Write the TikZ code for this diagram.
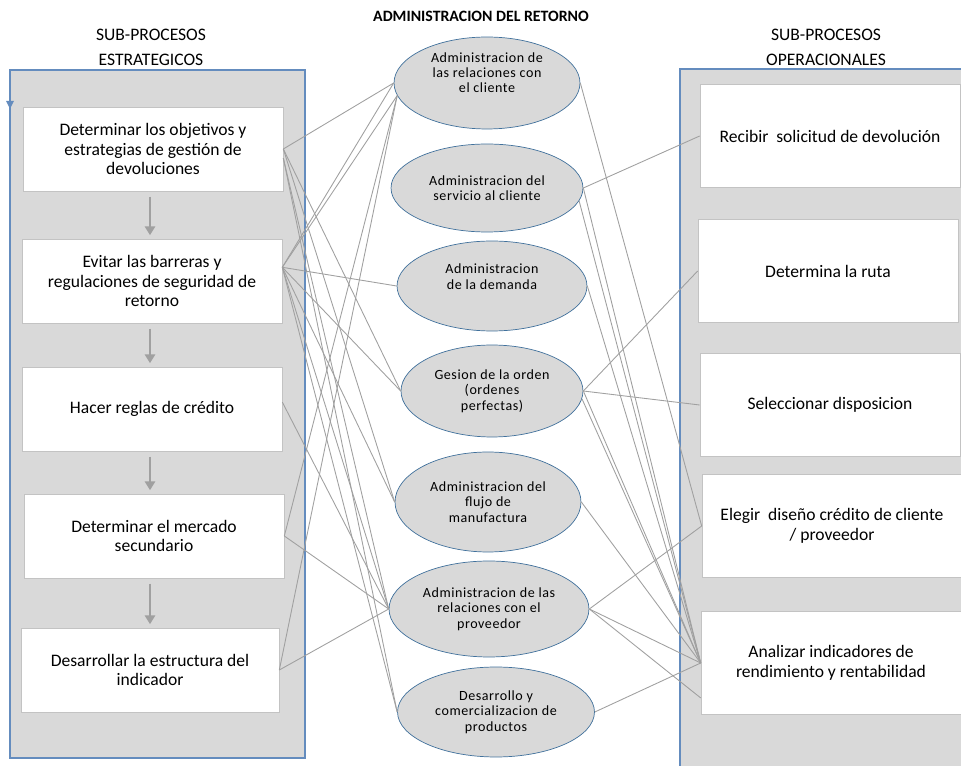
\documentclass[tikz,border=0pt]{standalone}
\usepackage{fontspec}
\setmainfont{Carlito}
\usepackage{tikz}
\usetikzlibrary{shapes.geometric,arrows.meta}
\definecolor{marco}{RGB}{100,140,190}
\definecolor{borde}{RGB}{65,113,156}
\definecolor{fondo}{RGB}{217,217,217}
\definecolor{linea}{RGB}{160,160,160}
\definecolor{caja}{RGB}{195,195,195}

\begin{document}
\begin{tikzpicture}[x=0.02cm,y=-0.02cm,
    paso/.style={draw=caja,fill=white,minimum width=5.2cm,minimum height=1.68cm,
      align=center,font=\fontsize{10}{11.2}\selectfont},
    oper/.style={paso,minimum height=2.06cm},
    proc/.style={ellipse,draw=borde,fill=fondo,align=center,inner sep=0pt,
      font=\fontsize{8}{8.8}\selectfont\addfontfeatures{LetterSpace=4}},
    cabeza/.style={align=center,font=\fontsize{10}{14.2}\selectfont},
    enlace/.style={draw=linea,line width=.5pt},
    flecha/.style={draw=linea,line width=.8pt,shorten <=3pt,shorten >=2pt,
      -{Triangle[width=6pt,length=5pt]}}]
    \useasboundingbox (0,0) rectangle (961,766);
    % titles
    \node[font=\bfseries\fontsize{9}{10}\selectfont] (titulo) at (481,16) {ADMINISTRACION DEL RETORNO};
    \node[cabeza] (cabEst) at (151,47) {SUB-PROCESOS\\ESTRATEGICOS};
    \node[cabeza] (cabOpe) at (826,47) {SUB-PROCESOS\\OPERACIONALES};
    % strategic sub-processes
    \draw[marco,fill=fondo,line width=.8pt] (10,70) rectangle (305,758);
    \fill[marco] (6,101) -- (14,101) -- (10,109) -- cycle;
    \node[paso] (est1) at (153,149) {Determinar los objetivos y\\estrategias de gestión de\\devoluciones};
    \node[paso] (est2) at (152,281) {Evitar las barreras y\\regulaciones de seguridad de\\retorno};
    \node[paso] (est3) at (152,409) {Hacer reglas de crédito};
    \node[paso] (est4) at (154,536) {Determinar el mercado\\secundario};
    \node[paso,minimum width=5.16cm] (est5) at (150,670) {Desarrollar la estructura del\\indicador};
    \foreach \a/\b in {est1/est2, est2/est3, est3/est4, est4/est5}{
      \draw[flecha] (\a.south -| est5) -- (\b.north -| est5);
    }
    % operational sub-processes
    \fill[fondo] (680,69) rectangle (961,766);
    \draw[marco,line width=.8pt] (680,766) -- (680,69) -- (961,69);
    \node[oper] (ope1) at (830,136) {Recibir \ solicitud de devolución};
    \node[oper] (ope2) at (828,271) {Determina la ruta};
    \node[oper] (ope3) at (830,405) {Seleccionar disposicion};
    \node[oper] (ope4) at (832,526) {Elegir \ diseño crédito de cliente\\/ proveedor};
    \node[oper] (ope5) at (831,663) {Analizar indicadores de\\rendimiento y rentabilidad};
    % return management processes
    \node[proc,minimum width=3.72cm,minimum height=1.84cm] (adm1) at (487,83) {Administracion de\\las relaciones con\\el cliente\\[3pt]};
    \node[proc,minimum width=3.84cm,minimum height=1.76cm] (adm2) at (487,188) {Administracion del\\servicio al cliente};
    \node[proc,minimum width=3.8cm,minimum height=1.8cm] (adm3) at (492,286) {Administracion\\de la demanda\\[2pt]};
    \node[proc,minimum width=3.64cm,minimum height=1.84cm] (adm4) at (492,391) {Gesion de la orden\\(ordenes\\perfectas)};
    \node[proc,minimum width=3.72cm,minimum height=2cm] (adm5) at (488,502) {Administracion del\\flujo de\\manufactura};
    \node[proc,minimum width=4cm,minimum height=1.92cm] (adm6) at (489,609) {Administracion de las\\relaciones con el\\proveedor};
    \node[proc,minimum width=3.94cm,minimum height=1.8cm] (adm7) at (496,712) {Desarrollo y\\comercializacion de\\productos};
    % links strategic -> processes
    \foreach \a/\b in {
      est1.east/adm1.west, est1.east/adm4.west, est1.east/adm5.west,
      est1.-4/adm6.west, est1.-4/adm7.west,
      est2.6/adm1.west, est2.6/adm1.188, est2.6/adm3.west, est2.6/adm4.west,
      est2.6/adm5.west, est2.6/adm6.west, est2.6/adm7.west,
      est3.3/adm6.west,
      est4.east/adm1.188, est4.east/adm6.west,
      est5.east/adm1.188, est5.east/adm6.west%
    }{
      \draw[enlace] (\a) -- (\b);
    }
    % links processes -> operational
    \foreach \a/\b in {
      adm1.east/ope4.west,
      adm2.east/ope1.west, adm2.east/ope5.west, adm2.-8/ope5.west,
      adm3.east/ope5.west,
      adm4.east/ope2.west, adm4.east/ope3.west, adm4.east/ope5.west, adm4.-5/ope5.west,
      adm5.east/ope5.west,
      adm6.east/ope4.west, adm6.east/ope5.west, adm6.east/ope5.195,
      adm7.east/ope5.west%
    }{
      \draw[enlace] (\a) -- (\b);
    }
\end{tikzpicture}
\end{document}
